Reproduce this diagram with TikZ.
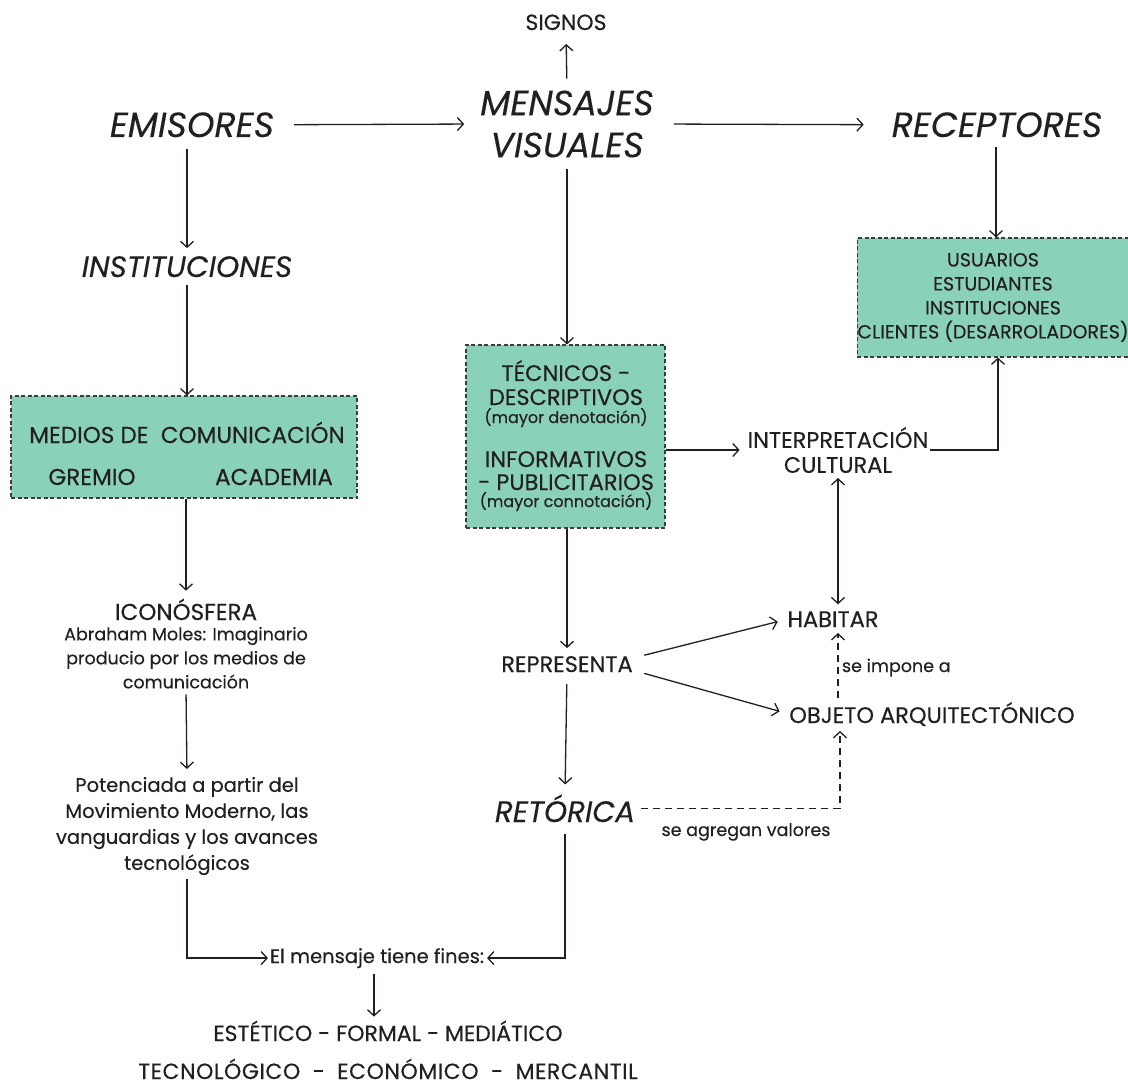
\documentclass[tikz,border=0pt]{standalone}
\usepackage{fontspec}
\setmainfont{Poppins}[FakeBold=0.3]
\usetikzlibrary{arrows.meta}
\definecolor{ink}{RGB}{35,31,32}
\definecolor{mint}{RGB}{137,209,184}
\definecolor{edge}{RGB}{60,60,60}
\tikzset{
  txt/.style={inner sep=0pt, outer sep=0pt, anchor=base, align=center, text=ink},
  title/.style={txt, font=\fontsize{35}{42}\selectfont\itshape},
  subtitle/.style={txt, font=\fontsize{29.5}{34}\selectfont\itshape},
  label/.style={txt, font=\fontsize{22.5}{25}\selectfont},
  small/.style={txt, font=\fontsize{17.5}{24}\selectfont},
  tiny/.style={txt, font=\fontsize{16}{20}\selectfont},
  body/.style={txt, font=\fontsize{19.5}{26}\selectfont},
  greenbox/.style={draw=edge, fill=mint, line width=1.1pt, dash pattern=on 4pt off 2.5pt, inner sep=0pt},
  arr/.style={draw=ink, line width=1.3pt, -{Straight Barb[length=6pt,width=13pt,line width=1.3pt]}},
  twoarr/.style={draw=ink, line width=1.3pt, {Straight Barb[length=6pt,width=13pt,line width=1.3pt]}-{Straight Barb[length=6pt,width=13pt,line width=1.3pt]}},
  darr/.style={arr, dash pattern=on 7pt off 5pt},
}
\begin{document}
\begin{tikzpicture}[x=1pt, y=-1pt]
\path[use as bounding box, fill=white] (0,0) rectangle (1128,1086);

% top row
\node[txt, font=\fontsize{22}{24}\selectfont] (sig) at (566,30) {SIGNOS};
\node[title, anchor=center] (mens) at (567,124) {MENSAJES\\VISUALES};
\node[title] (emi) at (192,137) {EMISORES};
\node[title] (rec) at (997,137) {RECEPTORES};

% left column
\node[subtitle] (inst) at (187,277) {INSTITUCIONES};
\node[greenbox, minimum width=346pt, minimum height=102pt] (med) at (184,447) {};
\node[txt, font=\fontsize{23}{26}\selectfont] (med1) at (187,443) {MEDIOS DE\ \ COMUNICACIÓN};
\node[txt, font=\fontsize{23}{26}\selectfont] (med2) at (92,485) {GREMIO};
\node[txt, font=\fontsize{23}{26}\selectfont] (med3) at (274,485) {ACADEMIA};
\node[txt, font=\fontsize{23}{26}\selectfont] (ico) at (186,620) {ICONÓSFERA};
\node[small, anchor=north] (icod) at (186,627) {Abraham Moles: Imaginario\\producio por los medios de\\comunicación};
\node[body, anchor=north] (pot) at (187,777) {Potenciada a partir del\\Movimiento Moderno, las\\vanguardias y los avances\\tecnológicos};
\node[body] (fin) at (377,963) {El mensaje tiene fines:};
% base of a two-line node is the baseline of its last line
\node[txt, font=\fontsize{22}{38}\selectfont] (est) at (388,1079) {ESTÉTICO - FORMAL - MEDIÁTICO\\{\addfontfeature{LetterSpace=2.5}TECNOLÓGICO\hspace{6pt} - \hspace{6pt}ECONÓMICO\hspace{6pt} - \hspace{6pt}MERCANTIL}};

% middle column
\node[greenbox, minimum width=199pt, minimum height=183pt] (tec) at (565.5,436.5) {};
\node[label] (tec1) at (566,381) {TÉCNICOS -};
\node[label] (tec2) at (566,405) {DESCRIPTIVOS};
\node[tiny] (tec3) at (566,423) {(mayor denotación)};
\node[label] (tec4) at (566,467) {INFORMATIVOS};
\node[label] (tec5) at (566,490) {- PUBLICITARIOS};
\node[tiny] (tec6) at (566,507) {(mayor connotación)};
\node[label] (rep) at (567,672) {REPRESENTA};
\node[subtitle] (ret) at (565,822) {RETÓRICA};

% right column
\node[greenbox, minimum width=266pt, minimum height=119pt, font=\fontsize{19}{24}\selectfont, text=ink, align=center] (usu) at (993,297.5) {USUARIOS\\ESTUDIANTES\\INSTITUCIONES\\CLIENTES (DESARROLADORES)};
\node[label, anchor=center] (int) at (838,450) {INTERPRETACIÓN\\CULTURAL};
\node[label] (hab) at (833,627) {HABITAR};
\node[label] (obj) at (932,723) {OBJETO ARQUITECTÓNICO};
\node[small, anchor=base west] (imp) at (842,672) {se impone a};
\node[small] (agr) at (746,836) {se agregan valores};

% connectors
\draw[arr, shorten <=20pt, shorten >=16pt] (emi.east) -- (mens.west);
\draw[arr, shorten <=20pt, shorten >=28pt] (mens.east) -- (rec.west);
\draw[arr, shorten <=12pt, shorten >=14pt] (mens.north) -- (sig.base);
\draw[arr, shorten <=12pt, shorten >=8pt] (emi.south -| inst.north) -- (inst.north);
\draw[arr, shorten <=8pt] (inst.south) -- (inst.south |- med.north);
\draw[arr, shorten >=8pt] (med.south -| ico.north) -- (ico.north);
\draw[arr, shorten <=6pt, shorten >=8pt] (icod.south) -- (pot.north);
\draw[arr, shorten >=2pt] ([yshift=-4pt]pot.south) |- (fin.west);
\draw[arr, shorten >=3pt] ([yshift=-12pt]ret.south) |- (fin.east);
\draw[arr, shorten <=6pt, shorten >=4pt] (fin.south -| 374,0) -- (est.north -| 374,0);
\draw[arr, shorten <=12pt] (mens.south) -- (mens.south |- tec.north);
\draw[arr, shorten >=8pt] (tec.east |- int.west) -- (int.west);
\draw[arr, shorten <=2pt] (int.east) -| (usu.south -| 998,0);
\draw[arr, shorten <=10pt] (rec.south -| 996,0) -- (usu.north -| 996,0);
\draw[arr, shorten >=8pt] (tec.south -| rep.north) -- (rep.north);
\draw[arr, shorten <=12pt, shorten >=10pt] (rep.south) -- (ret.north);
\draw[arr, shorten <=12pt, shorten >=10pt] ([yshift=6pt]rep.east) -- (hab.west);
\draw[arr, shorten <=12pt, shorten >=10pt] ([yshift=-6pt]rep.east) -- (obj.west);
\draw[twoarr, shorten <=5pt, shorten >=7pt] (int.south) -- (int.south |- hab.north);
\draw[darr, shorten <=4pt, shorten >=6pt] (obj.north -| int.south) -- (hab.south -| int.south);
\draw[darr, shorten <=6pt, shorten >=5pt] (ret.east) -| (obj.south -| 840,0);
\end{tikzpicture}
\end{document}
